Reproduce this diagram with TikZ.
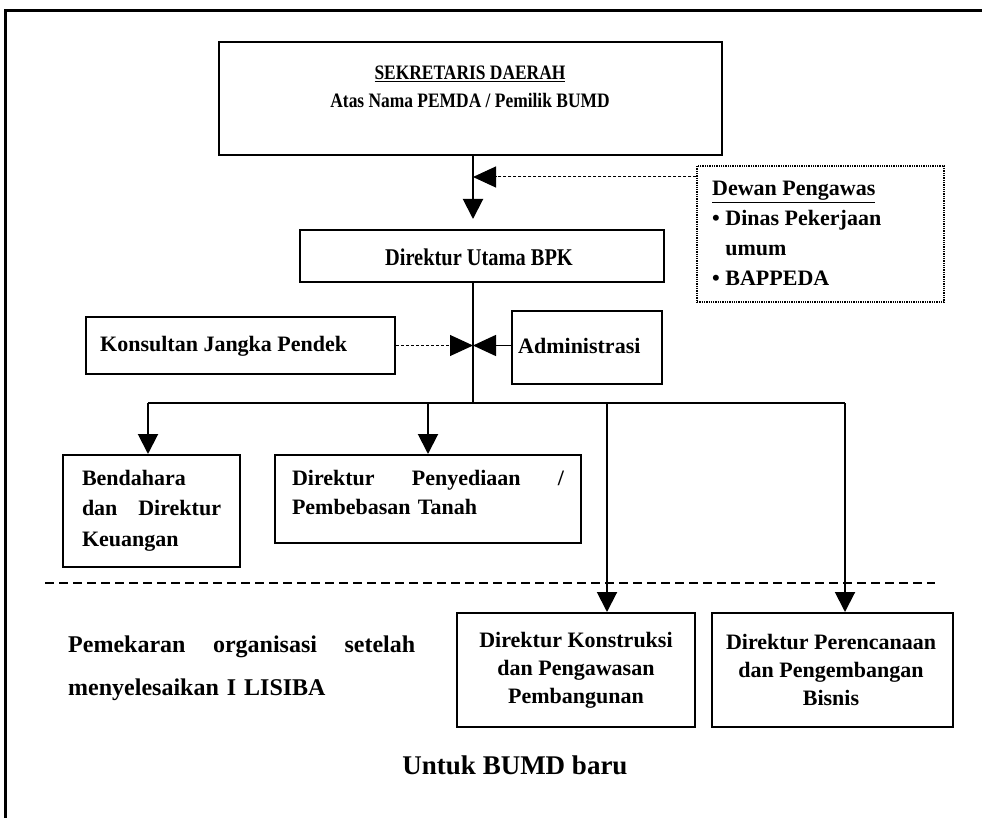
\documentclass[tikz,border=0pt]{standalone}
\usepackage{fontspec}
\setmainfont{Liberation Serif}
\newfontfamily\narrowserif{Liberation Serif}[FakeStretch=0.85]
\usetikzlibrary{arrows.meta}
\begin{document}
\begin{tikzpicture}[x=1pt,y=-1pt,
  box/.style={draw, line width=2pt, inner sep=0pt},
  txt/.style={font=\fontsize{22}{30}\selectfont\bfseries, inner sep=0pt},
  arr/.style={line width=2pt, -{Triangle[length=20pt,width=20pt]}},
  sidearr/.style={-{Triangle[length=23pt,width=21pt]}},
]
\useasboundingbox (0,0) rectangle (982,818);

% outer frame (left and top edges)
\draw[line width=3pt] (5,818) -- (5,11) -- (982,11);

% helper coordinates for the trunk and branch lines
\coordinate (trunk) at (473,0);
\coordinate (dwy) at (0,177);
\coordinate (br) at (0,403);
\coordinate (c1) at (148,403);
\coordinate (c2) at (428,403);
\coordinate (c3) at (607,403);
\coordinate (c4) at (845,403);

% top box
\node[box, minimum width=503pt, minimum height=113pt] (sek) at (470.5,98.5) {};
\node[txt, font=\narrowserif\fontsize{20.5}{28}\selectfont\bfseries, align=center] (sektxt) at (470,87)
  {\underline{SEKRETARIS DAERAH}\\Atas Nama PEMDA / Pemilik BUMD};

% main director
\node[box, minimum width=364pt, minimum height=52pt] (dir) at (482,256) {};
\node[txt, font=\narrowserif\fontsize{24}{30}\selectfont\bfseries] (dirtxt) at (479,257) {Direktur Utama BPK};

% supervisory board
\node[draw, densely dotted, line width=1.3pt, minimum width=247pt, minimum height=136pt] (dewan) at (820.5,234) {};
\node[txt, align=left, anchor=north west] (dewantxt) at (712,181)
  {\underline{Dewan Pengawas}\\• Dinas Pekerjaan\\\phantom{• }umum\\• BAPPEDA};

% side units
\node[box, minimum width=309pt, minimum height=57pt] (kons) at (240.5,345.5) {};
\node[txt, anchor=west] (konstxt) at (100,346) {Konsultan Jangka Pendek};
\node[box, minimum width=150pt, minimum height=73pt] (adm) at (587,347.5) {};
\node[txt, anchor=west] (admtxt) at (518,346) {Administrasi};

% lower units
\node[box, minimum width=177pt, minimum height=112pt] (bend) at (151.5,511) {};
\node[txt, text width=139pt, align=left, anchor=north, font=\fontsize{22}{30.5}\selectfont\bfseries] (bendtxt) at (151.5,470)
  {Bendahara\\dan\hfill Direktur\\Keuangan};
\node[box, minimum width=306pt, minimum height=88pt] (peny) at (428,499) {};
\node[txt, text width=272pt, align=left, anchor=north, font=\fontsize{22}{29.5}\selectfont\bfseries] (penytxt) at (428,470)
  {Direktur\hfill Penyediaan\hfill /\\Pembebasan Tanah};

% separator
\draw[line width=2pt, dash pattern=on 9pt off 5pt] (45,583) -- (935,583);

% new units
\node[box, minimum width=238pt, minimum height=114pt] (kon) at (576,670) {};
\node[txt, align=center, font=\fontsize{22}{28}\selectfont\bfseries] (kontxt) at (576,670)
  {Direktur Konstruksi\\dan Pengawasan\\Pembangunan};
\node[box, minimum width=241pt, minimum height=114pt] (per) at (832.5,670) {};
\node[txt, align=center, font=\fontsize{22}{28}\selectfont\bfseries] (pertxt) at (831,670)
  {Direktur Perencanaan\\dan Pengembangan\\Bisnis};

\node[txt, text width=347pt, align=left, anchor=north west, font=\fontsize{24}{43}\selectfont\bfseries] (pemtxt) at (68,636)
  {Pemekaran\hfill organisasi\hfill setelah\\menyelesaikan I LISIBA};
\node[txt, font=\fontsize{27}{32}\selectfont\bfseries] (baru) at (515,765) {Untuk BUMD baru};

% connectors
\draw[arr, shorten >=10pt] (sek.south -| trunk) -- (dir.north -| trunk);
\draw[sidearr, densely dashed, line width=1pt] (dewan.west |- dwy) -- (trunk |- dwy);
\draw[line width=2pt] (dir.south -| trunk) -- (trunk |- br);
\draw[sidearr, densely dashed, line width=1pt] (kons.east) -- (kons.east -| trunk);
\draw[sidearr, line width=1.5pt] (adm.west |- kons.east) -- (kons.east -| trunk);
\draw[line width=2pt] (c1) -- (c4);
\draw[arr] (c1) -- (c1 |- bend.north);
\draw[arr] (c2) -- (c2 |- peny.north);
\draw[arr] (c3) -- (c3 |- kon.north);
\draw[arr] (c4) -- (c4 |- per.north);
\end{tikzpicture}
\end{document}
